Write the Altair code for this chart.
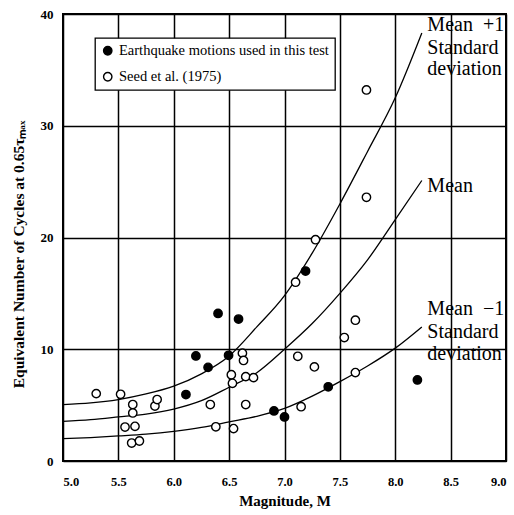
import altair as alt
import pandas as pd

# ---- data ----
quake_m = [6.40, 6.585, 6.20, 6.31, 6.495, 6.11, 7.19, 7.395, 6.905, 7.00, 8.20]
quake_n = [13.2, 12.7, 9.40, 8.38, 9.46, 5.95, 17.0, 6.64, 4.48, 3.94, 7.25]

seed_m = [5.30, 5.52, 5.63, 5.63, 5.56, 5.65, 5.62, 5.69, 5.83, 5.85,
          6.33, 6.38, 6.54, 6.65, 6.62, 6.63, 6.52, 6.53, 6.65, 6.72,
          7.10, 7.64, 7.54, 7.12, 7.27, 7.64, 7.15, 7.74, 7.74, 7.28]
seed_n = [6.03, 5.97, 5.05, 4.30, 3.04, 3.10, 1.61, 1.79, 4.92, 5.50,
          5.05, 3.06, 2.90, 5.05, 9.65, 9.00, 7.72, 6.95, 7.55, 7.46,
          16.0, 12.6, 11.05, 9.37, 8.42, 7.91, 4.86, 33.2, 23.6, 19.8]

curve_m = [5.0, 5.25, 5.5, 5.75, 6.0, 6.25, 6.5, 6.75, 7.0, 7.25, 7.5, 7.75, 8.0, 8.24]
plus1_n = [5.05, 5.2, 5.5, 6.0, 6.7, 7.8, 9.4, 12.0, 14.8, 18.6, 23.0, 27.7, 32.5, 38.3]
mean_n = [3.55, 3.7, 3.94, 4.2, 4.65, 5.4, 6.6, 7.9, 10.0, 12.3, 15.0, 18.0, 21.6, 25.1]
minus1_n = [2.0, 2.1, 2.24, 2.4, 2.65, 3.0, 3.5, 4.0, 4.7, 5.8, 7.1, 8.5, 10.1, 12.0]

label_text = ["Mean\u2002+1", "Standard", "deviation", "Mean",
              "Mean\u2002\u22121", "Standard", "deviation"]
label_m = [8.29, 8.29, 8.29, 8.29, 8.29, 8.29, 8.29]
label_n = [38.5, 36.4, 34.5, 24.1, 13.1, 11.05, 9.08]

x_ticks = [5.0, 5.5, 6.0, 6.5, 7.0, 7.5, 8.0, 8.5, 9.0]
y_ticks = [0, 10, 20, 30, 40]

cat_quake = "Earthquake motions used in this test"
cat_seed = "Seed et al. (1975)"

# ---- tables ----
pts = pd.DataFrame({
    "M": quake_m + seed_m,
    "N": quake_n + seed_n,
    "type": [cat_quake] * len(quake_m) + [cat_seed] * len(seed_m),
})
curves = pd.DataFrame({
    "M": curve_m * 3,
    "N": plus1_n + mean_n + minus1_n,
    "curve": ["plus1"] * len(curve_m) + ["mean"] * len(curve_m) + ["minus1"] * len(curve_m),
})
labels = pd.DataFrame({"M": label_m, "N": label_n, "t": label_text})

SERIF = "Liberation Serif"

xs = alt.Scale(domain=[5, 9], nice=False, zero=False)
ys = alt.Scale(domain=[0, 40], nice=False)

x_axis = alt.Axis(values=x_ticks, format=".1f", title="Magnitude, M", grid=True,
                  ticks=False, domain=False, labelPadding=14, titlePadding=6,
                  labelFont=SERIF, labelFontWeight="bold", labelFontSize=12.5,
                  titleFont=SERIF, titleFontWeight="bold", titleFontSize=15,
                  labelColor="black", titleColor="black")
y_axis = alt.Axis(values=y_ticks, title="Equivalent Number of Cycles at 0.65\u03c4\u2098\u2090\u2093",
                  grid=True, ticks=False, domain=False, labelPadding=10,
                  labelFont=SERIF, labelFontWeight="bold", labelFontSize=13,
                  titleFont=SERIF, titleFontWeight="bold", titleFontSize=15.5,
                  titleX=-37, titleY=240,
                  labelColor="black", titleColor="black")

lines = alt.Chart(curves).mark_line(color="black", strokeWidth=1.3, interpolate="monotone").encode(
    x=alt.X("M:Q", scale=xs, axis=x_axis),
    y=alt.Y("N:Q", scale=ys, axis=y_axis),
    detail="curve:N",
)

points = alt.Chart(pts).mark_point(shape="circle", filled=True, stroke="black",
                                    strokeWidth=1.4, size=70, opacity=1).encode(
    x=alt.X("M:Q", scale=xs),
    y=alt.Y("N:Q", scale=ys),
    fill=alt.Fill("type:N", scale=alt.Scale(domain=[cat_quake, cat_seed], range=["black", "white"]),
                  legend=alt.Legend(title=None, orient="none", legendX=32, legendY=24,
                                    labelFont=SERIF, labelFontSize=14.5, labelColor="black")),
)

texts = alt.Chart(labels).mark_text(align="left", baseline="alphabetic", font=SERIF,
                                   fontSize=20, color="black", clip=True).encode(
    x=alt.X("M:Q", scale=xs),
    y=alt.Y("N:Q", scale=ys),
    text="t:N",
)

chart = alt.layer(lines, points, texts).properties(
    width=443, height=447,
    padding={"left": 63, "top": 14, "right": 8, "bottom": 54},
    autosize=alt.AutoSizeParams(type="none"),
    background="white",
).configure(font=SERIF).configure_view(stroke="black", strokeWidth=2).configure_axis(
    gridColor="black", gridWidth=1.5, gridOpacity=1,
).configure_legend(
    labelFont=SERIF, labelFontSize=14.5, labelColor="black", labelLimit=400,
    symbolSize=70, symbolStrokeColor="black", symbolStrokeWidth=1.4, symbolType="circle",
    strokeColor="black", strokeWidth=1.3, fillColor="white", padding=5.5, rowPadding=10,
    labelOffset=4, cornerRadius=0,
)

chart.save("out.html", embed_options={"renderer": "svg", "actions": False})
